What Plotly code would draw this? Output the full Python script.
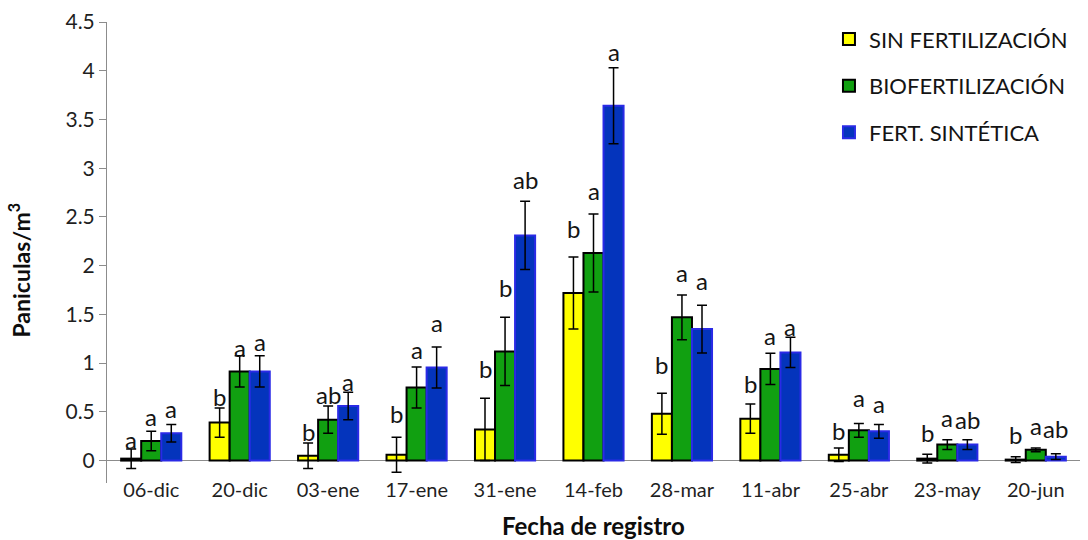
import plotly.graph_objects as go

# Fechas de muestreo
fechas = ["06-dic", "20-dic", "03-ene", "17-ene", "31-ene", "14-feb",
          "28-mar", "11-abr", "25-abr", "23-may", "20-jun"]

# Medias (panículas/m3) por tratamiento
sin_fert = [0.02, 0.39, 0.05, 0.06, 0.32, 1.72, 0.48, 0.43, 0.06, 0.02, 0.01]
biofert = [0.20, 0.915, 0.42, 0.75, 1.12, 2.13, 1.47, 0.94, 0.31, 0.165, 0.11]
sintetica = [0.28, 0.915, 0.56, 0.955, 2.31, 3.64, 1.35, 1.11, 0.30, 0.165, 0.04]

# Error estándar
err_sin = [0.10, 0.15, 0.13, 0.18, 0.32, 0.37, 0.21, 0.15, 0.07, 0.045, 0.03]
err_bio = [0.10, 0.16, 0.14, 0.21, 0.35, 0.40, 0.23, 0.16, 0.07, 0.05, 0.02]
err_sint = [0.09, 0.16, 0.14, 0.21, 0.35, 0.39, 0.245, 0.155, 0.07, 0.05, 0.03]

# Letras de significancia (Tukey)
let_sin = ["a", "b", "b", "b", "b", "b", "b", "b", "b", "b", "b"]
let_bio = ["a", "a", "ab", "a", "b", "a", "a", "a", "a", "a", "a"]
let_sint = ["a", "a", "a", "a", "ab", "a", "a", "a", "a", "ab", "ab"]

nombres = ["SIN FERTILIZACIÓN", "BIOFERTILIZACIÓN", "FERT. SINTÉTICA"]

# Separación (px) entre el extremo del error y la letra
lift_sin = [9, 11, 12, 24, 30, 28, 29, 21, 17, 22, 22]
lift_bio = [15, 8, 12, 18, 30, 24, 22, 18, 26, 22, 22]
lift_sint = [16, 14, 11, 25, 22, 16, 25, 11, 21, 20, 25]

FONT = "Lato, Carlito, Calibri, sans-serif"
BARGAP = 0.32

series = [
    (nombres[0], sin_fert, err_sin, let_sin, lift_sin, "#FFFF00", "#000000"),
    (nombres[1], biofert, err_bio, let_bio, lift_bio, "#11A011", "#000000"),
    (nombres[2], sintetica, err_sint, let_sint, lift_sint, "#0434BC", "#2A2AE6"),
]

fig = go.Figure()
annotations = []
bar_w = (1 - BARGAP) / len(series)

for j, (name, vals, errs, letters, lifts, fill, edge) in enumerate(series):
    fig.add_trace(go.Bar(
        name=name,
        x=fechas,
        y=vals,
        legendgroup=name,
        marker=dict(color=fill, line=dict(color=edge, width=2)),
        error_y=dict(type="data", array=errs, visible=True,
                     color="#000000", thickness=1.5, width=5),
    ))
    offset = (j - (len(series) - 1) / 2) * bar_w
    for i, (v, e, t, lf) in enumerate(zip(vals, errs, letters, lifts)):
        annotations.append(dict(
            x=i + offset, y=v + e, xref="x", yref="y",
            text=t, showarrow=False, yanchor="middle", yshift=lf,
            font=dict(family=FONT, size=24, color="#141414"),
        ))

# Títulos de ejes
annotations.append(dict(
    x=0.5, y=-0.23, xref="paper", yref="y", yanchor="middle", yshift=-42,
    text="<b>Fecha de registro</b>", showarrow=False,
    font=dict(family=FONT, size=24, color="#0d0d0d"),
))
annotations.append(dict(
    x=0, xref="paper", xanchor="center", xshift=-87,
    y=1.95, yref="y", yanchor="middle", textangle=-90,
    text="<b>Paniculas/m<sup>3</sup></b>", showarrow=False,
    font=dict(family=FONT, size=23, color="#0d0d0d"),
))

fig.update_layout(
    width=1088, height=540,
    margin=dict(l=107, r=8, t=16, b=57),
    paper_bgcolor="white", plot_bgcolor="white",
    barmode="group", bargap=BARGAP, bargroupgap=0,
    font=dict(family=FONT, size=20, color="#1f1f1f"),
    showlegend=True,
    legend=dict(
        x=0.742, y=1.008, xanchor="left", yanchor="top",
        font=dict(family=FONT, size=22, color="#141414"),
        tracegroupgap=15, itemwidth=30,
        bgcolor="rgba(0,0,0,0)",
    ),
    annotations=annotations,
)

fig.update_xaxes(
    type="category", range=[-0.5, len(fechas) - 0.5],
    showline=False, ticks="", showgrid=False,
    tickfont=dict(family=FONT, size=20, color="#1f1f1f"),
    ticklabelstandoff=-7,
)
fig.update_yaxes(
    range=[-0.23, 4.5], tickvals=[0, 0.5, 1, 1.5, 2, 2.5, 3, 3.5, 4, 4.5],
    ticktext=["0", "0.5", "1", "1.5", "2", "2.5", "3", "3.5", "4", "4.5"],
    showgrid=False, showline=True, linecolor="#8C8C8C", linewidth=1,
    ticks="outside", ticklen=7, tickcolor="#8C8C8C",
    zeroline=True, zerolinecolor="#8C8C8C", zerolinewidth=1,
    tickfont=dict(family=FONT, size=21, color="#1f1f1f"),
)

fig.write_html("out.html")
